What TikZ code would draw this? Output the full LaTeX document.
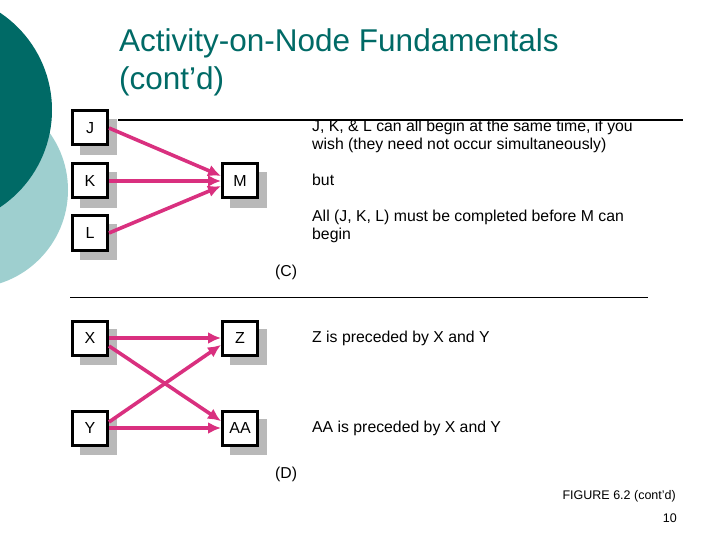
\documentclass[tikz,border=0pt]{standalone}
\usepackage{fontspec}
\setmainfont{Liberation Sans}
\usetikzlibrary{arrows.meta}
\definecolor{teald}{HTML}{006A66}
\definecolor{teall}{HTML}{9ECFCF}
\definecolor{pinkc}{HTML}{D9307F}
\begin{document}
\begin{tikzpicture}[x=1pt,y=-1pt,
  box/.style={draw=black,line width=3pt,fill=white,minimum width=35pt,minimum height=34pt,inner sep=0pt,font=\fontsize{16}{18}\selectfont},
  arr/.style={draw=pinkc,line width=3.6pt,-{Latex[length=13pt,width=12pt]}},
  txt/.style={anchor=north west,align=left,inner sep=0pt,font=\fontsize{15.8}{18}\selectfont}]
\useasboundingbox (0,0) rectangle (720,540);
\begin{scope}
\clip (0,0) rectangle (720,540);
\fill[teall] (-30,190) circle (98);
\fill[teald] (-65,110) circle (117);
\end{scope}
\node[anchor=west,inner sep=0pt,text=teald,font=\fontsize{31.5}{36}\selectfont] (t1) at (119,43) {Activity-on-Node Fundamentals};
\node[anchor=west,inner sep=0pt,text=teald,font=\fontsize{31.5}{36}\selectfont] (t2) at (119,81) {(cont’d)};
\draw[line width=1.5pt] (118,120) coordinate (la) -- (683,120) coordinate (lb);
\draw[line width=1pt] (70,297) coordinate (lc) -- (648,297) coordinate (ld);
\foreach \n/\t/\x/\y in {J/J/90/128,K/K/90/181,L/L/90/233,M/M/240/181,X/X/90/338,Z/Z/240/338,Y/Y/90/428,AA/AA/240/428}{
  \fill[gray!55] (\x-10,\y-9) rectangle (\x+27,\y+27);
  \node[box] (\n) at (\x,\y) {\t};
}
\draw[arr] (J.east) -- (M.165);
\draw[arr] (K.east) -- (M.west);
\draw[arr] (L.east) -- (M.195);
\draw[arr] (X.east) -- (Z.west);
\draw[arr] ([yshift=-8pt]X.east) -- (AA.160);
\draw[arr] ([yshift=6pt]Y.east) -- (Z.200);
\draw[arr] (Y.east) -- (AA.west);
\node[txt] (c1) at (312,120) {J, K, \& L can all begin at the same time, if you\\wish (they need not occur simultaneously)};
\node[txt] (c2) at (312,174) {but};
\node[txt] (c3) at (312,210) {All (J, K, L) must be completed before M can\\begin};
\node[txt] (cc) at (275,265) {(C)};
\node[txt] (d1) at (312,331) {Z is preceded by X and Y};
\node[txt] (d2) at (312,421) {AA is preceded by X and Y};
\node[txt] (dd) at (275,467) {(D)};
\node[anchor=east,inner sep=0pt,font=\fontsize{12.5}{14}\selectfont] (fig) at (676,496) {FIGURE 6.2 (cont’d)};
\node[anchor=east,inner sep=0pt,font=\fontsize{12.5}{14}\selectfont] (pg) at (677,518) {10};
\end{tikzpicture}
\end{document}
